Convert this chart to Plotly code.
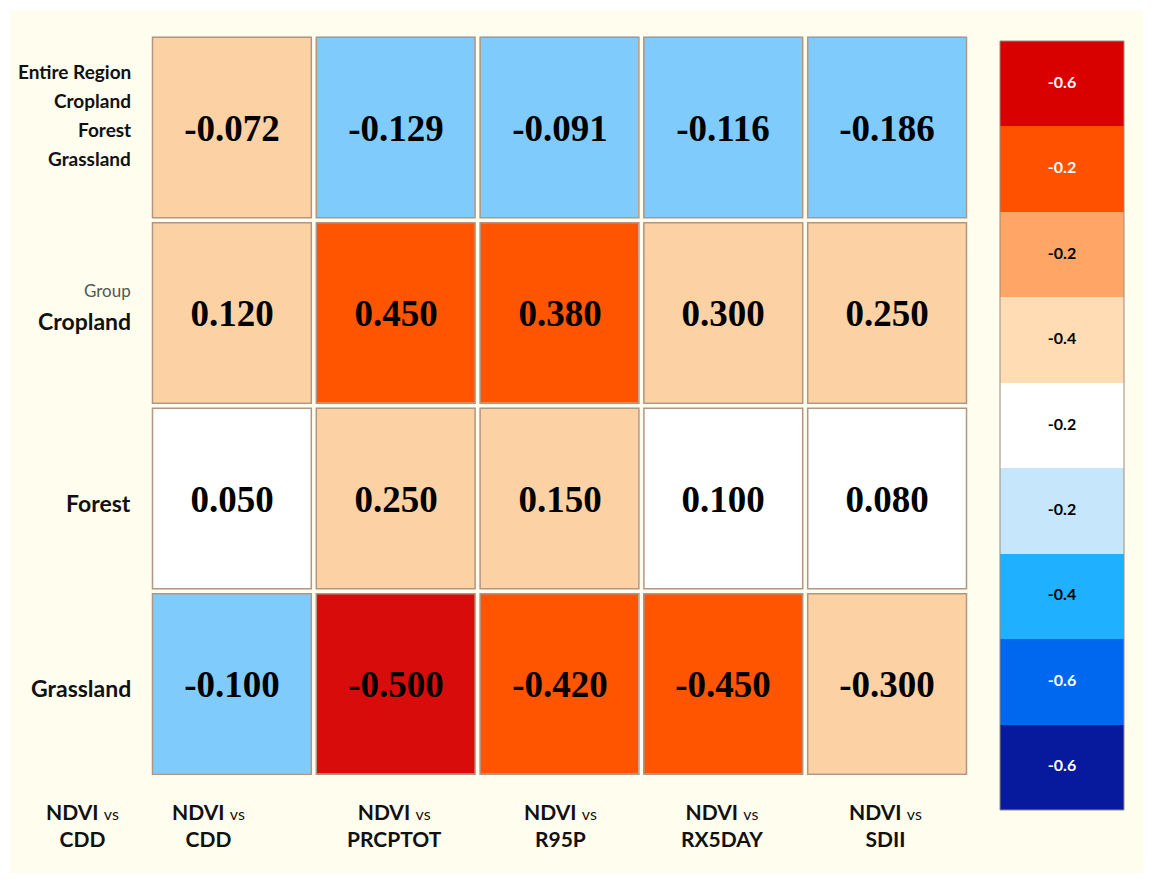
import plotly.graph_objects as go

# ---- data ----
row_labels = ["Entire Region", "Cropland", "Forest", "Grassland"]
col_labels = ["NDVI vs CDD", "NDVI vs CDD", "NDVI vs PRCPTOT", "NDVI vs R95P",
              "NDVI vs RX5DAY", "NDVI vs SDII"]
values = [
    [-0.072, -0.129, -0.091, -0.116, -0.186],
    [0.120, 0.450, 0.380, 0.300, 0.250],
    [0.050, 0.250, 0.150, 0.100, 0.080],
    [-0.100, -0.500, -0.420, -0.450, -0.300],
]
# colour class of each cell: 0 white, 1 peach, 2 sky blue, 3 orange, 4 red
cell_class = [
    [1, 2, 2, 2, 2],
    [1, 3, 3, 1, 1],
    [0, 1, 1, 0, 0],
    [2, 4, 3, 3, 1],
]
legend_labels = ["-0.6", "-0.2", "-0.2", "-0.4", "-0.2", "-0.2", "-0.4", "-0.6", "-0.6"]

# ---- styles ----
cell_colors = ["#ffffff", "#fcd1a3", "#7ecbfc", "#ff5500", "#d90c0c"]
band_colors = ["#d90000", "#ff5100", "#ffa566", "#ffdcb4", "#ffffff",
               "#c6e6fc", "#1fb0ff", "#0068ee", "#07199c"]
band_text = ["white", "white", "black", "black", "black", "black", "black", "white", "white"]
cream = "#fefdee"
border = "#b39584"

# page has an 8px body margin, so work in page pixels and convert
OFF = 8
W, H = 1152 - 2 * OFF, 883 - 2 * OFF


def px(x):
    return (x - OFF) / W


def py(y):
    return 1 - (y - OFF) / H


n = len(cell_colors) - 1
cscale = [[i / n, c] for i, c in enumerate(cell_colors)]

fig = go.Figure()
fig.add_trace(go.Heatmap(
    z=cell_class,
    x=list(range(len(values[0]))),
    y=list(range(len(values))),
    text=[[f"{v:.3f}" for v in row] for row in values],
    texttemplate="<b>%{text}</b>",
    textfont=dict(family="Liberation Serif", size=37, color="black"),
    colorscale=cscale, zmin=0, zmax=n,
    showscale=False, xgap=5, ygap=5, hoverinfo="skip",
))

# legend strip as its own heatmap
m = len(band_colors) - 1
bscale = [[i / m, c] for i, c in enumerate(band_colors)]
fig.add_trace(go.Heatmap(
    z=[[i] for i in range(len(band_colors))],
    x=[0], y=list(range(len(band_colors))),
    colorscale=bscale, zmin=0, zmax=m, showscale=False,
    xaxis="x2", yaxis="y2", hoverinfo="skip",
))
fig.add_trace(go.Scatter(
    x=[0] * len(legend_labels), y=list(range(len(legend_labels))),
    text=legend_labels, mode="text", texttemplate="<b>%{text}</b>",
    textfont=dict(family="Lato", size=16, color=band_text),
    xaxis="x2", yaxis="y2", hoverinfo="skip", showlegend=False,
))

# cell borders
dx, dy = 2.5 / (819 / 5), 2.5 / (742 / 4)
for i in range(len(values)):
    for j in range(len(values[0])):
        fig.add_shape(type="rect", xref="x", yref="y",
                      x0=j - 0.5 + dx, x1=j + 0.5 - dx,
                      y0=i - 0.5 + dy, y1=i + 0.5 - dy,
                      line=dict(color=border, width=1.5))
fig.add_shape(type="rect", xref="x2 domain", yref="y2 domain",
              x0=0, x1=1, y0=0, y1=1, line=dict(color="#9c8a80", width=1))
# cream panel
fig.add_shape(type="rect", xref="paper", yref="paper", layer="below",
              x0=px(10), x1=px(1143), y0=py(873), y1=py(10),
              fillcolor=cream, line=dict(width=0))

# row labels
lab_x = px(133)
for txt, shift in zip(row_labels, [56, 27, -2, -31]):
    fig.add_annotation(x=lab_x, xref="paper", y=0, yref="y", yshift=shift,
                       text=f"<b>{txt}</b>", showarrow=False, xanchor="right",
                       font=dict(family="Lato", size=19, color="#111"))
fig.add_annotation(x=lab_x, xref="paper", y=1, yref="y", yshift=23,
                   text="Group", showarrow=False, xanchor="right",
                   font=dict(family="Lato", size=17, color="#555"))
for i, shift in zip(range(1, 4), [-8, -4, -4]):
    fig.add_annotation(x=lab_x, xref="paper", y=i, yref="y", yshift=shift,
                       text=f"<b>{row_labels[i]}</b>", showarrow=False, xanchor="right",
                       font=dict(family="Lato", size=23, color="#111"))

# column labels (the first one sits under the row-label column)
col_x = [px(82), px(208), px(394), px(560), px(722), px(885)]
for lab, cx in zip(col_labels, col_x):
    a, b = lab.split(" vs ")
    fig.add_annotation(x=cx, xref="paper", y=py(825), yref="paper",
                       text=f"<b>{a}</b> <span style='font-size:16px'>vs</span><br><b>{b}</b>",
                       showarrow=False, xanchor="center", yanchor="middle",
                       font=dict(family="Lato", size=21, color="#111"))

fig.update_layout(
    width=W, height=H,
    margin=dict(l=0, r=0, t=0, b=0),
    paper_bgcolor="white",
    plot_bgcolor="#fbf8f0",
    showlegend=False,
    xaxis=dict(domain=[px(150), px(969)], range=[-0.5, 4.5], visible=False,
               fixedrange=True),
    yaxis=dict(domain=[py(776.75), py(34.75)], range=[3.5, -0.5],
               visible=False, fixedrange=True),
    xaxis2=dict(domain=[px(1000), px(1124)], range=[-0.5, 0.5], visible=False,
                anchor="y2"),
    yaxis2=dict(domain=[py(810), py(41)], range=[8.5, -0.5], visible=False,
                anchor="x2"),
)

fig.write_html("out.html")
